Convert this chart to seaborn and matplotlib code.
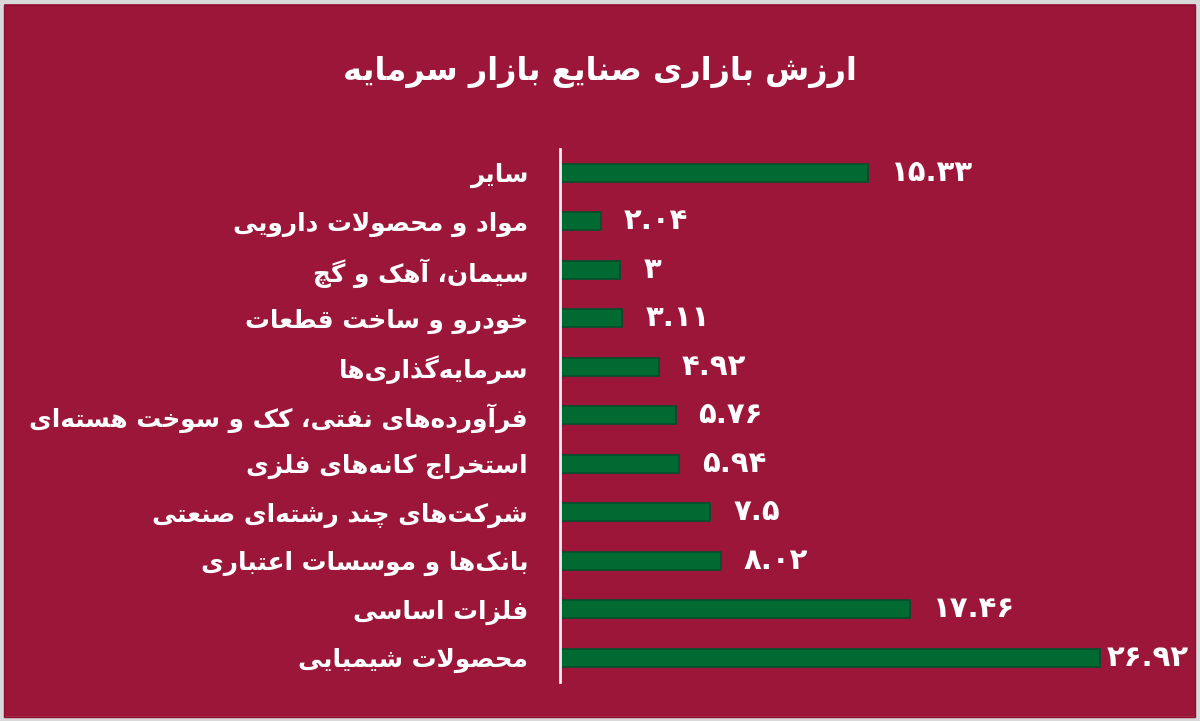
import matplotlib
matplotlib.use("Agg")
import matplotlib.pyplot as plt
import seaborn as sns
import pandas as pd
from matplotlib.patches import Rectangle

# ---------------- data ----------------
title = "ارزش بازاری صنایع بازار سرمایه"
categories = [
    "سایر",
    "مواد و محصولات دارویی",
    "سیمان، آهک و گچ",
    "خودرو و ساخت قطعات",
    "سرمایه\u200cگذاری\u200cها",
    "فرآورده\u200cهای نفتی، کک و سوخت هسته\u200cای",
    "استخراج کانه\u200cهای فلزی",
    "شرکت\u200cهای چند رشته\u200cای صنعتی",
    "بانک\u200cها و موسسات اعتباری",
    "فلزات اساسی",
    "محصولات شیمیایی",
]
values = [15.33, 2.04, 3, 3.11, 4.92, 5.76, 5.94, 7.5, 8.02, 17.46, 26.92]
value_labels = ["15.33", "2.04", "3", "3.11", "4.92", "5.76", "5.94", "7.5", "8.02", "17.46", "26.92"]

# ---------------- simple Arabic/Persian shaping ----------------
FORMS = {
    # char: (isolated, final, initial, medial)
    '\u0627': (0xFE8D, 0xFE8E, None, None),
    '\u0622': (0xFE81, 0xFE82, None, None),
    '\u0628': (0xFE8F, 0xFE90, 0xFE91, 0xFE92),
    '\u067E': (0xFB56, 0xFB57, 0xFB58, 0xFB59),
    '\u062A': (0xFE95, 0xFE96, 0xFE97, 0xFE98),
    '\u062B': (0xFE99, 0xFE9A, 0xFE9B, 0xFE9C),
    '\u062C': (0xFE9D, 0xFE9E, 0xFE9F, 0xFEA0),
    '\u0686': (0xFB7A, 0xFB7B, 0xFB7C, 0xFB7D),
    '\u062D': (0xFEA1, 0xFEA2, 0xFEA3, 0xFEA4),
    '\u062E': (0xFEA5, 0xFEA6, 0xFEA7, 0xFEA8),
    '\u062F': (0xFEA9, 0xFEAA, None, None),
    '\u0630': (0xFEAB, 0xFEAC, None, None),
    '\u0631': (0xFEAD, 0xFEAE, None, None),
    '\u0632': (0xFEAF, 0xFEB0, None, None),
    '\u0698': (0xFB8A, 0xFB8B, None, None),
    '\u0633': (0xFEB1, 0xFEB2, 0xFEB3, 0xFEB4),
    '\u0634': (0xFEB5, 0xFEB6, 0xFEB7, 0xFEB8),
    '\u0635': (0xFEB9, 0xFEBA, 0xFEBB, 0xFEBC),
    '\u0636': (0xFEBD, 0xFEBE, 0xFEBF, 0xFEC0),
    '\u0637': (0xFEC1, 0xFEC2, 0xFEC3, 0xFEC4),
    '\u0638': (0xFEC5, 0xFEC6, 0xFEC7, 0xFEC8),
    '\u0639': (0xFEC9, 0xFECA, 0xFECB, 0xFECC),
    '\u063A': (0xFECD, 0xFECE, 0xFECF, 0xFED0),
    '\u0641': (0xFED1, 0xFED2, 0xFED3, 0xFED4),
    '\u0642': (0xFED5, 0xFED6, 0xFED7, 0xFED8),
    '\u06A9': (0xFB8E, 0xFB8F, 0xFB90, 0xFB91),
    '\u06AF': (0xFB92, 0xFB93, 0xFB94, 0xFB95),
    '\u0644': (0xFEDD, 0xFEDE, 0xFEDF, 0xFEE0),
    '\u0645': (0xFEE1, 0xFEE2, 0xFEE3, 0xFEE4),
    '\u0646': (0xFEE5, 0xFEE6, 0xFEE7, 0xFEE8),
    '\u0648': (0xFEED, 0xFEEE, None, None),
    '\u0647': (0xFEE9, 0xFEEA, 0xFEEB, 0xFEEC),
    '\u06CC': (0xFBFC, 0xFBFD, 0xFBFE, 0xFBFF),
    '\u064A': (0xFEF1, 0xFEF2, 0xFEF3, 0xFEF4),
    '\u0626': (0xFE89, 0xFE8A, 0xFE8B, 0xFE8C),
}
LAMALEF = {'\u0627': (0xFEFB, 0xFEFC), '\u0622': (0xFEF5, 0xFEF6)}


def dual(c):
    return c in FORMS and FORMS[c][2] is not None


def shape(text):
    chars = []
    i = 0
    while i < len(text):
        c = text[i]
        if c == '\u0644' and i + 1 < len(text) and text[i + 1] in LAMALEF:
            chars.append(('LA', text[i + 1]))
            i += 2
        else:
            chars.append(c)
            i += 1

    def joinable(x):
        return isinstance(x, tuple) or (isinstance(x, str) and x in FORMS)

    def is_dual(x):
        return isinstance(x, str) and dual(x)

    out = []
    for k, c in enumerate(chars):
        prev = chars[k - 1] if k > 0 else None
        nxt = chars[k + 1] if k + 1 < len(chars) else None
        join_prev = prev is not None and is_dual(prev) and joinable(c)
        if isinstance(c, tuple):
            iso, fin = LAMALEF[c[1]]
            out.append(chr(fin if join_prev else iso))
            continue
        if c not in FORMS:
            if c == '\u200c':
                continue
            out.append(c)
            continue
        join_next = is_dual(c) and nxt is not None and joinable(nxt)
        iso, fin, ini, med = FORMS[c]
        if join_prev and join_next:
            out.append(chr(med))
        elif join_prev:
            out.append(chr(fin))
        elif join_next:
            out.append(chr(ini))
        else:
            out.append(chr(iso))
    return ''.join(reversed(out))


PERSIAN_DIGITS = str.maketrans("0123456789", "۰۱۲۳۴۵۶۷۸۹")

# ---------------- plot ----------------
BG = "#9C1639"
sns.set_theme(style="white")
plt.rcParams['font.family'] = ['DejaVu Sans']

fig = plt.figure(figsize=(12, 7.21), dpi=100, facecolor=BG)
ax = fig.add_axes([560 / 1200, 1 - 682 / 721, 620 / 1200, 533.5 / 721])
ax.set_facecolor(BG)

df = pd.DataFrame({"cat": [shape(c) for c in categories], "val": values})
sns.barplot(data=df, x="val", y="cat", orient="h", color="#006A32",
            width=0.37, edgecolor="#00502A", linewidth=1.2, saturation=1, ax=ax)

ax.set_xlim(0, 30.9)
ax.set_ylim(10.5, -0.5)
ax.set_xlabel("")
ax.set_ylabel("")
ax.set_xticks([])
ax.tick_params(axis="y", length=0, pad=23)
for lbl in ax.get_yticklabels():
    lbl.set_color("white")
    lbl.set_fontweight("bold")
    lbl.set_fontsize(17.8)

for s in ["top", "right", "bottom"]:
    ax.spines[s].set_visible(False)
ax.spines["left"].set_color("#F2F2F2")
ax.spines["left"].set_linewidth(2)

for i, (v, t) in enumerate(zip(values, value_labels)):
    off = 23 if v < 25 else 7
    ax.annotate(t.translate(PERSIAN_DIGITS), xy=(v, i), xytext=(off * 0.72, 0),
                textcoords="offset points", ha="left", va="center",
                color="white", fontsize=21, fontweight="bold")

fig.text(0.5, 1 - 72 / 721, shape(title), ha="center", va="center",
         color="white", fontsize=23, fontweight="bold")

# frame
fig.patches.append(Rectangle((0, 0), 1, 1, transform=fig.transFigure, fill=False,
                             edgecolor="#D9D9D9", linewidth=6, zorder=10))
fig.patches.append(Rectangle((4 / 1200, 4 / 721), 1 - 9 / 1200, 1 - 9 / 721,
                             transform=fig.transFigure, fill=False,
                             edgecolor="#8A0F2E", linewidth=1, zorder=10))

fig.savefig("out.png", dpi=100, facecolor=BG)
